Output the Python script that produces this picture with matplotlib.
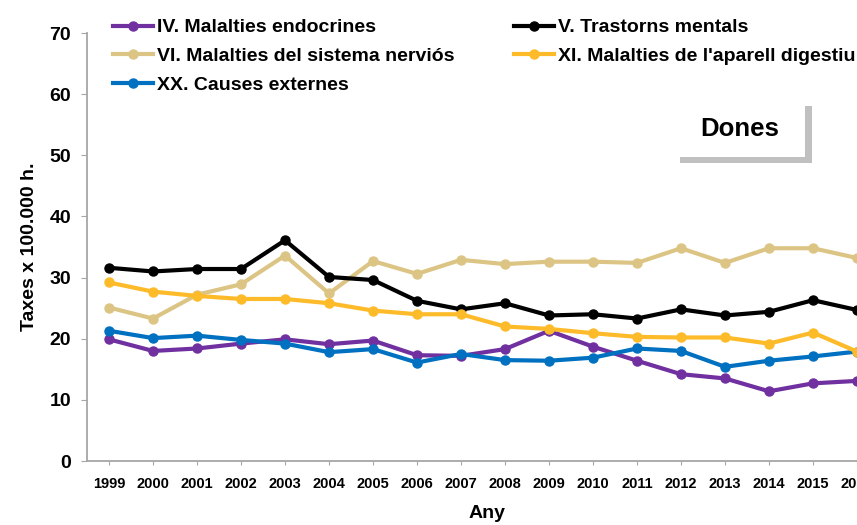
import matplotlib
matplotlib.use("Agg")
import matplotlib.pyplot as plt
from matplotlib.patches import Rectangle

plt.rcParams['font.family'] = ['Liberation Sans', 'DejaVu Sans']
plt.rcParams['font.weight'] = 'bold'

years = list(range(1999, 2017))
year_labels = [str(y) for y in years]

endocrines = [19.9, 18.0, 18.4, 19.2, 19.9, 19.1, 19.7, 17.3, 17.2, 18.3, 21.3, 18.7,
              16.4, 14.2, 13.5, 11.4, 12.7, 13.1]
mentals = [31.6, 31.0, 31.4, 31.4, 36.1, 30.1, 29.6, 26.2, 24.8, 25.8, 23.8, 24.0,
           23.3, 24.8, 23.8, 24.4, 26.3, 24.7]
nervios = [25.1, 23.3, 27.2, 28.9, 33.6, 27.4, 32.7, 30.6, 32.9, 32.2, 32.6, 32.6,
           32.4, 34.8, 32.4, 34.8, 34.8, 33.2]
digestiu = [29.2, 27.7, 27.0, 26.5, 26.5, 25.8, 24.6, 24.0, 24.0, 22.0, 21.6, 20.9,
            20.3, 20.2, 20.2, 19.2, 21.0, 17.9]
externes = [21.3, 20.1, 20.5, 19.8, 19.2, 17.8, 18.3, 16.1, 17.5, 16.5, 16.4, 16.9,
            18.4, 18.0, 15.4, 16.4, 17.1, 17.9]

series = [
    ("IV. Malalties endocrines", endocrines, "#7030a0"),
    ("VI. Malalties del sistema nerviós", nervios, "#dcc584"),
    ("XX. Causes externes", externes, "#0070c0"),
    ("V. Trastorns mentals", mentals, "#000000"),
    ("XI. Malalties de l'aparell digestiu", digestiu, "#fdbb2a"),
]

W, H = 857, 525
fig = plt.figure(figsize=(W / 100, H / 100), dpi=100)
ax = fig.add_axes([87 / W, 1 - 461 / H, 792 / W, 428 / H])

x = list(range(len(years)))
handles = []
for name, vals, col in series:
    h, = ax.plot(x, vals, color=col, lw=3, marker='o', ms=6.5, label=name,
                 clip_on=False)
    handles.append(h)

ax.set_xlim(-0.5, len(years) - 0.5)
ax.set_ylim(0, 70)
ax.set_yticks(range(0, 71, 10))
ax.set_xticks(x)
ax.set_xticklabels(year_labels, fontsize=10.5)
ax.tick_params(axis='y', labelsize=14, length=4.5, color='#a6a6a6', pad=7)
ax.tick_params(axis='x', length=3, color='#a6a6a6', pad=8.5)
for s in ['top', 'right']:
    ax.spines[s].set_visible(False)
for s in ['left', 'bottom']:
    ax.spines[s].set_color('#a6a6a6')
    ax.spines[s].set_linewidth(1.3)

fig.text(30 / W, 1 - 247 / H, "Taxes x 100.000 h.", rotation=90, fontsize=14,
         ha='center', va='center')
fig.text(487 / W, 1 - 513 / H, "Any", fontsize=14, ha='center', va='center')

leg = fig.legend(handles=handles, ncol=2, loc='upper left',
                 bbox_to_anchor=(105 / W, 1 - 11 / H), frameon=False, fontsize=14,
                 handlelength=2.05, handletextpad=0.2, columnspacing=3.1,
                 labelspacing=0.57, borderaxespad=0)

# "Dones" box with shadow
fig.add_artist(Rectangle((680 / W, 1 - 163 / H), 132 / W, 57 / H,
                         transform=fig.transFigure, color='#c0c0c0', lw=0))
fig.add_artist(Rectangle((674 / W, 1 - 157 / H), 131 / W, 57 / H,
                         transform=fig.transFigure, color='white', lw=0))
fig.text(740 / W, 1 - 129 / H, "Dones", fontsize=18.5, ha='center', va='center')

fig.savefig("out.png", dpi=100)
